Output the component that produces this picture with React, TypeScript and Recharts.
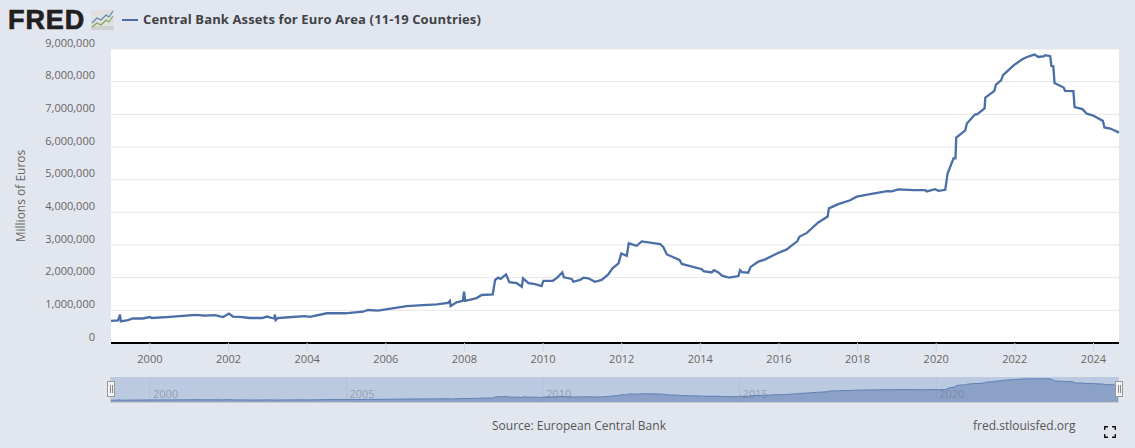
import { Area, AreaChart, CartesianGrid, Line, LineChart, XAxis, YAxis } from 'recharts';

const dates = [
  1999.01, 1999.19, 1999.24, 1999.26, 1999.44, 1999.57, 1999.82, 2000.0, 2000.05, 2000.51,
  2000.92, 2001.15, 2001.4, 2001.65, 2001.86, 2002.01, 2002.11, 2002.29, 2002.54, 2002.85,
  2002.98, 2003.1, 2003.16, 2003.18, 2003.2, 2003.25, 2003.44, 2003.94, 2004.07, 2004.5,
  2004.96, 2005.42, 2005.55, 2005.8, 2006.53, 2006.95, 2007.3, 2007.58, 2007.63, 2007.65,
  2007.8, 2007.96, 2007.99, 2008.02, 2008.31, 2008.44, 2008.72, 2008.78, 2008.86, 2008.92,
  2009.06, 2009.14, 2009.33, 2009.46, 2009.49, 2009.63, 2009.8, 2009.96, 2010.01, 2010.25,
  2010.36, 2010.49, 2010.53, 2010.73, 2010.77, 2010.94, 2011.03, 2011.15, 2011.32, 2011.49,
  2011.66, 2011.76, 2011.92, 2011.99, 2012.13, 2012.18, 2012.38, 2012.51, 2012.98, 2013.06,
  2013.15, 2013.47, 2013.53, 2014.04, 2014.08, 2014.29, 2014.35, 2014.46, 2014.55, 2014.73,
  2014.97, 2015.01, 2015.06, 2015.22, 2015.28, 2015.48, 2015.65, 2015.95, 2016.2, 2016.28,
  2016.47, 2016.52, 2016.71, 2017.0, 2017.24, 2017.27, 2017.51, 2017.81, 2017.98, 2018.32,
  2018.75, 2018.87, 2019.04, 2019.42, 2019.72, 2019.76, 2019.97, 2020.06, 2020.23, 2020.29,
  2020.44, 2020.49, 2020.51, 2020.74, 2020.78, 2020.99, 2021.04, 2021.23, 2021.25, 2021.48,
  2021.52, 2021.65, 2021.7, 2021.97, 2022.18, 2022.31, 2022.5, 2022.6, 2022.75, 2022.77,
  2022.9, 2022.93, 2022.98, 2023.01, 2023.24, 2023.28, 2023.49, 2023.52, 2023.72, 2023.83,
  2023.98, 2024.24, 2024.28, 2024.43, 2024.65,
];

const assets = [
  680000, 690000, 870000, 660000, 700000, 750000, 750000, 795000, 765000, 800000,
  840000, 860000, 840000, 856000, 795000, 900000, 810000, 800000, 765000, 765000,
  810000, 765000, 750000, 870000, 700000, 760000, 780000, 825000, 800000, 910000,
  910000, 957000, 1010000, 990000, 1130000, 1160000, 1180000, 1230000, 1290000, 1130000,
  1245000, 1290000, 1570000, 1290000, 1376000, 1470000, 1490000, 1930000, 2000000, 1960000,
  2100000, 1860000, 1830000, 1720000, 1980000, 1830000, 1800000, 1740000, 1900000, 1905000,
  2000000, 2160000, 2010000, 1960000, 1875000, 1930000, 2000000, 1980000, 1875000, 1930000,
  2100000, 2280000, 2440000, 2740000, 2670000, 3050000, 2975000, 3110000, 3030000, 2930000,
  2710000, 2540000, 2420000, 2260000, 2200000, 2160000, 2230000, 2160000, 2060000, 2000000,
  2050000, 2230000, 2170000, 2150000, 2330000, 2490000, 2560000, 2740000, 2865000, 2945000,
  3120000, 3250000, 3370000, 3690000, 3870000, 4120000, 4250000, 4370000, 4480000, 4560000,
  4650000, 4640000, 4700000, 4680000, 4680000, 4640000, 4710000, 4660000, 4690000, 5190000,
  5650000, 5650000, 6290000, 6510000, 6720000, 7000000, 7000000, 7180000, 7510000, 7720000,
  7910000, 8040000, 8200000, 8500000, 8680000, 8755000, 8830000, 8755000, 8780000, 8810000,
  8780000, 8480000, 8470000, 7960000, 7820000, 7720000, 7710000, 7220000, 7160000, 7020000,
  6970000, 6800000, 6600000, 6565000, 6440000,
];

const yTicks = [0, 1000000, 2000000, 3000000, 4000000, 5000000, 6000000, 7000000, 8000000, 9000000];
const xTicks = [2000, 2002, 2004, 2006, 2008, 2010, 2012, 2014, 2016, 2018, 2020, 2022, 2024];
const navTicks = [2000, 2005, 2010, 2015, 2020];

const rows = dates.map((date, i) => ({ date, assets: assets[i] }));

const FONT = '"Open Sans", sans-serif';
const PAGE_BG = '#e2e7ef';
const LINE_COLOR = '#4a6ea5';
const X_DOMAIN = [1999.01, 2024.65];

// labels sit above their gridline, like the FRED graph
const YTick = (props: any) => {
  const { x, y, payload } = props;
  return (
    <text x={x} y={y - 7} textAnchor="end" dominantBaseline="central" fill="#666" fontSize={11} fontFamily={FONT}>
      {payload.value.toLocaleString('en-US')}
    </text>
  );
};

const NavTick = (props: any) => {
  const { x, payload } = props;
  return (
    <g>
      <line x1={x} x2={x} y1={0} y2={25} stroke="#6f83a8" strokeOpacity={0.1} />
      <text x={x + 3} y={16.5} dominantBaseline="central" fill="#6f7687" fillOpacity={0.55} fontSize={11} fontFamily={FONT}>
        {payload.value}
      </text>
    </g>
  );
};

const Handle = ({ left }: { left: number }) => (
  <div
    style={{
      position: 'absolute', left, top: 381, width: 6, height: 14,
      background: '#f4f4f4', border: '1px solid #999',
    }}
  >
    <div style={{ position: 'absolute', left: 1.5, top: 3, width: 1, height: 8, background: '#888' }} />
    <div style={{ position: 'absolute', left: 3.5, top: 3, width: 1, height: 8, background: '#888' }} />
  </div>
);

const Logo = () => (
  <>
    <div
      style={{
        position: 'absolute', left: 8, top: 4, fontFamily: '"Liberation Sans", sans-serif',
        fontWeight: 700, fontSize: 27, lineHeight: '32px', letterSpacing: 0.9, color: '#231f20',
        WebkitTextStroke: '0.7px #231f20',
      }}
    >
      FRED
    </div>
    <svg style={{ position: 'absolute', left: 91, top: 10 }} width={23} height={20}>
      <rect x={0} y={0} width={23} height={20} rx={1} fill="#dfe0df" />
      <rect x={0} y={16} width={23} height={4} fill="#cfd1cf" />
      <polyline points="1,13 6,8 10,10 15,5 18,7 22,1" fill="none" stroke="#5c88b5" strokeWidth={1.2} />
      <polyline points="1,17 6,13 10,15 15,10 18,12 22,6" fill="none" stroke="#86a55a" strokeWidth={1.2} />
    </svg>
  </>
);

const FullscreenIcon = () => (
  <svg style={{ position: 'absolute', left: 1104, top: 426 }} width={12} height={12}>
    <path d="M0.7 4V0.7H4M8 0.7H11.3V4M11.3 8V11.3H8M4 11.3H0.7V8" fill="none" stroke="#111" strokeWidth={1.4} />
  </svg>
);

export default function App() {
  return (
    <div style={{ position: 'absolute', left: 0, top: 0, width: 1135, height: 448, background: PAGE_BG, overflow: 'hidden', fontFamily: FONT }}>
      <Logo />
      <div style={{ position: 'absolute', left: 122, top: 18.5, width: 16, height: 2, background: LINE_COLOR }} />
      <div
        style={{
          position: 'absolute', left: 143, top: 10, fontSize: 13, lineHeight: '18px', fontWeight: 700,
          letterSpacing: 0.13, color: '#3f4247', whiteSpace: 'nowrap',
        }}
      >
        Central Bank Assets for Euro Area (11-19 Countries)
      </div>

      <div style={{ position: 'absolute', left: 0, top: 0 }}>
        <LineChart width={1135} height={448} data={rows} margin={{ top: 49, right: 16, bottom: 0, left: 0 }}>
          <CartesianGrid horizontal vertical={false} fill="#fff" stroke="#e6e6e6" />
          <XAxis
            dataKey="date"
            type="number"
            domain={X_DOMAIN}
            ticks={xTicks}
            interval={0}
            height={105}
            axisLine={{ stroke: '#000', strokeWidth: 2 }}
            tickLine={{ stroke: '#ccd6eb' }}
            tickSize={9}
            tickMargin={3}
            tick={{ fill: '#666', fontSize: 11, fontFamily: FONT }}
          />
          <YAxis
            type="number"
            domain={[0, 9000000]}
            ticks={yTicks}
            interval={0}
            width={111}
            axisLine={false}
            tickLine={false}
            tickMargin={0}
            tickSize={16}
            tick={YTick}
            label={{
              value: 'Millions of Euros', angle: -90, position: 'insideLeft', offset: 21,
              style: { fill: '#666', fontSize: 12, fontFamily: FONT, textAnchor: 'middle' },
            }}
          />
          <Line dataKey="assets" type="linear" stroke={LINE_COLOR} strokeWidth={2.3} dot={false} isAnimationActive={false} />
        </LineChart>
      </div>

      <div style={{ position: 'absolute', left: 110, top: 377, width: 1009, height: 26, background: '#ccc' }} />
      <div style={{ position: 'absolute', left: 111, top: 377, width: 1008, height: 24, background: '#bccae1' }} />
      <div style={{ position: 'absolute', left: 111, top: 377 }}>
        <AreaChart width={1008} height={26} data={rows} margin={{ top: 0, right: 0, bottom: 0, left: 0 }}>
          <XAxis
            dataKey="date"
            type="number"
            domain={X_DOMAIN}
            ticks={navTicks}
            interval={0}
            height={1}
            axisLine={false}
            tickLine={false}
            tick={NavTick}
          />
          <YAxis hide domain={[0, 9470000]} />
          <Area dataKey="assets" type="linear" stroke="#5f80b4" strokeWidth={1} fill="#8ba1c7" fillOpacity={1} isAnimationActive={false} />
        </AreaChart>
      </div>
      <div style={{ position: 'absolute', left: 1117.5, top: 377, width: 1.5, height: 26, background: '#ccc' }} />
      <Handle left={107} />
      <Handle left={1115} />

      <div style={{ position: 'absolute', left: 492, top: 417, fontSize: 12, lineHeight: '18px', color: '#555', whiteSpace: 'nowrap' }}>
        Source: European Central Bank
      </div>
      <div style={{ position: 'absolute', left: 973, top: 417, fontSize: 12, lineHeight: '18px', color: '#555', whiteSpace: 'nowrap' }}>
        fred.stlouisfed.org
      </div>
      <FullscreenIcon />
    </div>
  );
}
